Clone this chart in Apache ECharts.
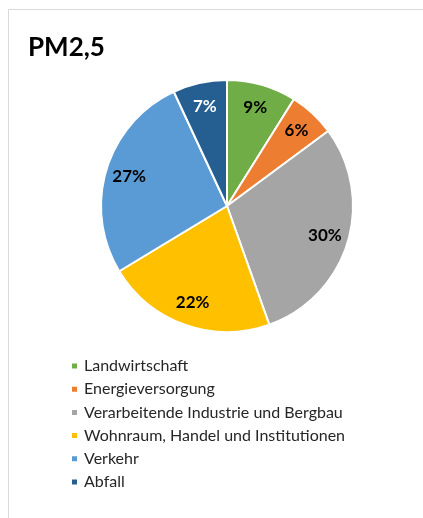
<!DOCTYPE html>
<html>
<head>
<meta charset="utf-8">
<script src="https://cdn.jsdelivr.net/npm/echarts@6/dist/echarts.min.js"></script>
<style>
  html, body { margin: 0; padding: 0; background: #fff; }
  #chart { width: 423px; height: 518px; }
</style>
</head>
<body>
<div id="chart"></div>
<script>
// data
const sectors = ['Landwirtschaft', 'Energieversorgung', 'Verarbeitende Industrie und Bergbau',
  'Wohnraum, Handel und Institutionen', 'Verkehr', 'Abfall'];
const shares = [9, 6, 30, 22, 27, 7];
const colors = ['#70AD47', '#ED7D31', '#A5A5A5', '#FFC000', '#5B9BD5', '#255E91'];

const cx = 227, cy = 206, r = 126;
const fontFam = 'Lato, "Open Sans", sans-serif';

const chart = echarts.init(document.getElementById('chart'));

const option = {
  animation: false,
  color: colors,
  title: {
    text: 'PM2,5',
    left: 23,
    top: 30,
    textStyle: { fontFamily: fontFam, fontSize: 26, fontWeight: 'bold', color: '#000' }
  },
  graphic: [{
    type: 'rect',
    shape: { x: 8.5, y: 9.5, width: 600, height: 700 },
    style: { fill: 'none', stroke: '#d9d9d9', lineWidth: 1 },
    silent: true
  }],
  legend: {
    orient: 'vertical',
    left: 65,
    top: 352,
    itemWidth: 7,
    itemHeight: 7,
    itemGap: 5.2,
    icon: 'rect',
    data: sectors,
    textStyle: { fontFamily: fontFam, fontSize: 16, color: '#262626', lineHeight: 18, padding: [0, 0, 0, 1] }
  },
  series: [{
    type: 'pie',
    center: [cx, cy],
    radius: [0, r],
    startAngle: 90,
    clockwise: true,
    itemStyle: { borderColor: '#fff', borderWidth: 2 },
    label: {
      position: 'inside',
      formatter: '{c}%',
      fontFamily: fontFam,
      fontSize: 17,
      fontWeight: 'bold',
      color: '#000'
    },
    labelLine: { show: false },
    // push the inside labels outward a bit, like Excel's best fit
    labelLayout: function (p) {
      const lx = p.labelRect.x + p.labelRect.width / 2;
      const ly = p.labelRect.y + p.labelRect.height / 2;
      const k = 0.55;
      return { dx: (lx - cx) * k, dy: (ly - cy) * k };
    },
    data: sectors.map((name, i) => ({
      name: name,
      value: shares[i],
      label: i === 5 ? { color: '#fff' } : undefined
    }))
  }]
};

chart.setOption(option);
</script>
</body>
</html>
